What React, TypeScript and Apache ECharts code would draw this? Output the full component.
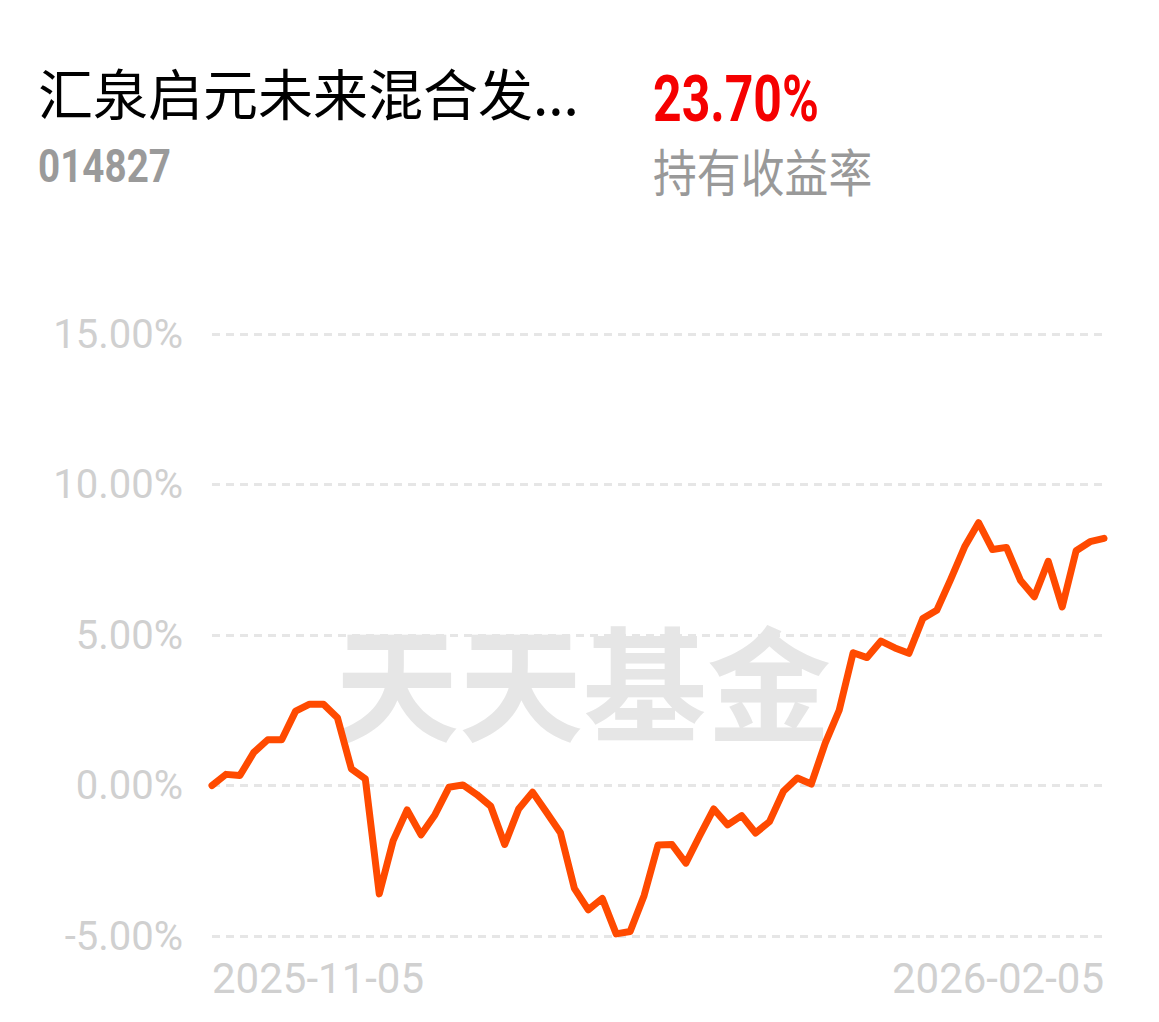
import React, { useEffect, useRef } from "react";
import * as echarts from "echarts";

const fundName = "汇泉启元未来混合发...";
const fundCode = "014827";
const holdReturn = "23.70%";
const holdReturnLabel = "持有收益率";
const watermark = "天天基金";

const dates = [
  "2025-11-05", "2025-11-06", "2025-11-07", "2025-11-10", "2025-11-11", "2025-11-12", "2025-11-13", "2025-11-14",
  "2025-11-17", "2025-11-18", "2025-11-19", "2025-11-20", "2025-11-21", "2025-11-24", "2025-11-25", "2025-11-26",
  "2025-11-27", "2025-11-28",
  "2025-12-01", "2025-12-02", "2025-12-03", "2025-12-04", "2025-12-05", "2025-12-08", "2025-12-09", "2025-12-10",
  "2025-12-11", "2025-12-12", "2025-12-15", "2025-12-16", "2025-12-17", "2025-12-18", "2025-12-19", "2025-12-22",
  "2025-12-23", "2025-12-24", "2025-12-25", "2025-12-26", "2025-12-29", "2025-12-30", "2025-12-31",
  "2026-01-05", "2026-01-06", "2026-01-07", "2026-01-08", "2026-01-09", "2026-01-12", "2026-01-13", "2026-01-14",
  "2026-01-15", "2026-01-16", "2026-01-19", "2026-01-20", "2026-01-21", "2026-01-22", "2026-01-23", "2026-01-26",
  "2026-01-27", "2026-01-28", "2026-01-29", "2026-01-30",
  "2026-02-02", "2026-02-03", "2026-02-04", "2026-02-05",
];

const returns = [
  0.0, 0.37, 0.33, 1.1, 1.52, 1.52, 2.47, 2.7, 2.7, 2.25,
  0.55, 0.22, -3.6, -1.83, -0.81, -1.64, -0.97, -0.06, 0.02, -0.3,
  -0.69, -1.96, -0.78, -0.22, -0.89, -1.57, -3.42, -4.13, -3.75, -4.93,
  -4.85, -3.66, -1.98, -1.96, -2.58, -1.66, -0.78, -1.31, -1.0, -1.58,
  -1.2, -0.19, 0.25, 0.05, 1.41, 2.5, 4.41, 4.25, 4.8, 4.57,
  4.39, 5.55, 5.82, 6.85, 7.93, 8.73, 7.84, 7.91, 6.82, 6.27,
  7.45, 5.93, 7.8, 8.1, 8.21,
];

const yMin = -5;
const yMax = 15;
const yStep = 5;

export default function App() {
  const ref = useRef<HTMLDivElement>(null);

  useEffect(() => {
    if (!ref.current) return;
    const chart = echarts.init(ref.current, undefined, { renderer: "svg" });
    const lastIdx = dates.length - 1;
    chart.setOption({
      animation: false,
      backgroundColor: "#ffffff",
      graphic: [
        {
          type: "text",
          x: 38,
          y: 91,
          z: 10,
          style: {
            text: fundName,
            font: '400 55px "Noto Sans CJK SC"',
            fill: "#000000",
            textAlign: "left",
            textVerticalAlign: "middle",
          },
        },
        {
          type: "text",
          x: 38,
          y: 166,
          scaleX: 0.84,
          z: 10,
          style: {
            text: fundCode,
            font: 'bold 46px Roboto',
            fill: "#9a9a9a",
            textAlign: "left",
            textVerticalAlign: "middle",
          },
        },
        {
          type: "text",
          x: 653,
          y: 99,
          scaleX: 0.78,
          z: 10,
          style: {
            text: holdReturn,
            font: 'bold 64px Roboto',
            fill: "#f50000",
            textAlign: "left",
            textVerticalAlign: "middle",
          },
        },
        {
          type: "text",
          x: 653,
          y: 170,
          scaleX: 0.86,
          z: 10,
          style: {
            text: holdReturnLabel,
            font: '400 51px "Noto Sans CJK SC"',
            fill: "#999999",
            textAlign: "left",
            textVerticalAlign: "middle",
          },
        },
        {
          type: "text",
          x: 335,
          y: 678,
          z: 0,
          silent: true,
          style: {
            text: watermark,
            font: '700 124px "Noto Sans CJK SC"',
            fill: "#e6e6e6",
            textAlign: "left",
            textVerticalAlign: "middle",
          },
        },
      ],
      grid: {
        left: 212,
        right: 55,
        top: 334,
        bottom: 86,
        containLabel: false,
      },
      xAxis: {
        type: "category",
        data: dates,
        boundaryGap: false,
        axisLine: { show: false },
        axisTick: { show: false },
        splitLine: { show: false },
        axisLabel: {
          color: "#d0d0d0",
          fontFamily: "Roboto",
          fontSize: 42,
          margin: 21,
          interval: (idx: number) => idx === 0 || idx === lastIdx,
          alignMinLabel: "left",
          alignMaxLabel: "right",
          showMinLabel: true,
          showMaxLabel: true,
        },
      },
      yAxis: {
        type: "value",
        min: yMin,
        max: yMax,
        interval: yStep,
        axisLine: { show: false },
        axisTick: { show: false },
        axisLabel: {
          color: "#d0d0d0",
          fontFamily: "Roboto",
          fontSize: 40,
          margin: 29,
          formatter: (v: number) => v.toFixed(2) + "%",
        },
        splitLine: {
          show: true,
          lineStyle: { color: "#e6e6e6", width: 3, type: [8, 6] },
        },
      },
      series: [
        {
          type: "line",
          data: returns,
          showSymbol: false,
          symbol: "none",
          smooth: false,
          z: 5,
          lineStyle: { color: "#ff4a00", width: 7, cap: "round", join: "round" },
        },
      ],
    });
    return () => chart.dispose();
  }, []);

  return (
    <div
      ref={ref}
      style={{ position: "absolute", left: 0, top: 0, width: 1159, height: 1022, background: "#fff" }}
    />
  );
}
